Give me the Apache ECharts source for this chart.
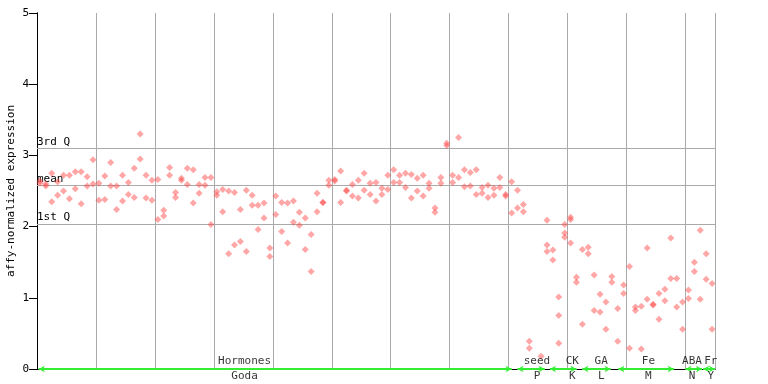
<!DOCTYPE html>
<html><head><meta charset="utf-8">
<script src="https://cdn.jsdelivr.net/npm/echarts@6/dist/echarts.min.js"></script>
<style>html,body{margin:0;padding:0;background:#fff}#c{width:768px;height:384px}</style>
</head><body><div id="c"></div>
<script>
// expression values per sample column (replicates)
const columnValues = [
 [2.64,2.61],[2.60,2.57],[2.75,2.35],[2.63,2.44],[2.72,2.50],[2.72,2.39],[2.77,2.53],[2.77,2.32],[2.70,2.57],[2.94,2.60],
 [2.61,2.37],[2.71,2.38],[2.90,2.57],[2.57,2.24],[2.72,2.36],[2.62,2.45],[2.82,2.41],[3.30,2.95],[2.72,2.40],[2.65,2.37],
 [2.66,2.10],[2.23,2.15],[2.83,2.72],[2.48,2.41],[2.68,2.65],[2.82,2.59],[2.80,2.33],[2.59,2.47],[2.69,2.58],[2.69,2.03],
 [2.49,2.44],[2.52,2.21],[2.50,1.62],[2.48,1.74],[2.24,1.79],[2.51,1.65],[2.44,2.30],[2.30,1.96],[2.33,2.12],[1.70,1.58],
 [2.43,2.17],[2.34,1.93],[2.33,1.77],[2.36,2.06],[2.20,2.02],[2.12,1.68],[1.89,1.37],[2.47,2.21],[2.34,2.34],[2.65,2.58],
 [2.66,2.64],[2.78,2.34],[2.50,2.51],[2.59,2.43],[2.65,2.40],[2.75,2.51],[2.61,2.45],[2.62,2.36],[2.54,2.45],[2.72,2.52],
 [2.80,2.62],[2.72,2.62],[2.75,2.55],[2.73,2.40],[2.68,2.50],[2.72,2.43],[2.61,2.54],[2.26,2.20],[2.69,2.61],[3.17,3.14],
 [2.72,2.62],[3.25,2.69],[2.80,2.56],[2.76,2.57],[2.80,2.45],[2.55,2.47],[2.58,2.41],[2.54,2.44],[2.69,2.55],[2.45,2.43],
 [2.63,2.19],[2.51,2.26],[2.31,2.21],[0.39,0.29],[],[0.18],[2.09,1.74,1.65],[1.67,1.53],[1.01,0.75,0.36],[2.03,1.91,1.85],
 [2.13,2.10,1.77],[1.29,1.22],[1.68,0.63],[1.71,1.62],[1.32,0.82],[1.05,0.80],[0.94,0.56],[1.30,1.22],[0.85,0.39],[1.18,1.06],
 [1.44,0.29],[0.87,0.82],[0.88,0.28],[1.70,0.98],[0.90,0.91],[1.06,0.70],[1.12,0.96],[1.84,1.27],[1.27,0.87],[0.94,0.56],
 [1.11,0.99],[1.50,1.37],[1.95,0.98],[1.62,1.26],[1.20,0.56]
];
const quantileValues = [3.10, 2.58, 2.04];
const quantileNames = ['3rd Q', 'mean', '1st Q'];
const groupNames = ['Hormones','seed','CK','GA','Fe','ABA','Fr'];
const groupSubNames = ['Goda','P','K','L','M','N','Y'];
const groupStart = [0.3, 81.5, 87.0, 92.5, 98.6, 110.0, 113.0];
const groupEnd   = [80.5, 86.1, 91.5, 97.3, 108.0, 112.8, 115.0];
const groupCenter = [35.2, 84.8, 90.8, 95.7, 103.7, 111.1, 114.3];
const yTicks = [0,1,2,3,4,5];

const FONT = '"DejaVu Sans Mono", monospace';
const points = [];
columnValues.forEach((vals, i) => vals.forEach(v => points.push([i + 0.5, v])));

const series = [{
  type: 'scatter', data: points, symbol: 'diamond', symbolSize: 7,
  itemStyle: { color: 'rgba(255,70,70,0.6)' }, z: 5,
  markLine: {
    silent: true, symbol: 'none', animation: false,
    lineStyle: { color: '#aaaaaa', type: 'solid', width: 1 },
    label: { position: 'insideStartTop', distance: [0, 1], color: '#000', fontFamily: FONT, fontSize: 11, padding: 0,
      formatter: p => p.name },
    data: quantileValues.map((v, k) => ({ yAxis: v, name: quantileNames[k] }))
  }
}];
groupNames.forEach((g, k) => {
  series.push({
    type: 'line', data: [[groupStart[k], 0], [groupEnd[k], 0]], symbol: 'none', silent: true,
    lineStyle: { color: '#33ee33', width: 2 }, z: 6,
    markLine: { silent: true, symbol: ['arrow', 'arrow'], symbolSize: [5, 6], animation: false,
      lineStyle: { color: '#33ee33', width: 1, type: 'solid' }, label: { show: false },
      data: [[{ coord: [groupStart[k], 0] }, { coord: [groupEnd[k], 0] }]] }
  });
});
series.push({
  type: 'scatter', symbolSize: 0, silent: true, z: 7,
  data: groupCenter.map((c, k) => ({ value: [c, 0], name: groupNames[k] })),
  label: { show: true, position: 'top', distance: 2, formatter: p => p.name, color: '#000', fontFamily: FONT, fontSize: 11 }
});
series.push({
  type: 'scatter', symbolSize: 0, silent: true, z: 7,
  data: groupCenter.map((c, k) => ({ value: [c, 0], name: groupSubNames[k] })),
  label: { show: true, position: 'bottom', distance: 2, formatter: p => p.name, color: '#000', fontFamily: FONT, fontSize: 11 }
});

const chart = echarts.init(document.getElementById('c'));
chart.setOption({
  animation: false,
  grid: { left: 37, right: 53, top: 13, bottom: 15, containLabel: false, outerBoundsMode: 'none' },
  xAxis: [{
    type: 'value', min: 0, max: 115, interval: 10,
    axisLine: { show: true, onZero: false, lineStyle: { color: '#000', width: 1 } },
    axisTick: { show: false }, axisLabel: { show: false },
    splitLine: { show: true, lineStyle: { color: '#aaaaaa', width: 1 } }
  }, {
    type: 'value', position: 'top', min: 0, max: 115,
    axisLine: { show: true, lineStyle: { color: '#000', width: 1 } },
    axisTick: { show: false }, axisLabel: { show: false }, splitLine: { show: false }
  }],
  yAxis: [{
    type: 'value', min: 0, max: 5, interval: 1,
    name: 'affy-normalized expression', nameLocation: 'middle', nameGap: 20, nameMoveOverlap: false,
    nameTextStyle: { fontFamily: FONT, fontSize: 11, color: '#000' },
    axisLine: { show: true, lineStyle: { color: '#000', width: 1 } },
    axisTick: { show: true, length: 8, inside: false, lineStyle: { color: '#000' } },
    axisLabel: { margin: 8, color: '#000', fontFamily: FONT, fontSize: 11, formatter: v => yTicks.includes(v) ? String(v) : '' },
    splitLine: { show: false }
  }, {
    type: 'value', position: 'right', min: 0, max: 5, interval: 1,
    axisLine: { show: true, lineStyle: { color: '#000', width: 1 } },
    axisTick: { show: true, inside: true, length: 5, lineStyle: { color: '#000' } },
    axisLabel: { show: false }, splitLine: { show: false }
  }],
  series: series
});
</script></body></html>
